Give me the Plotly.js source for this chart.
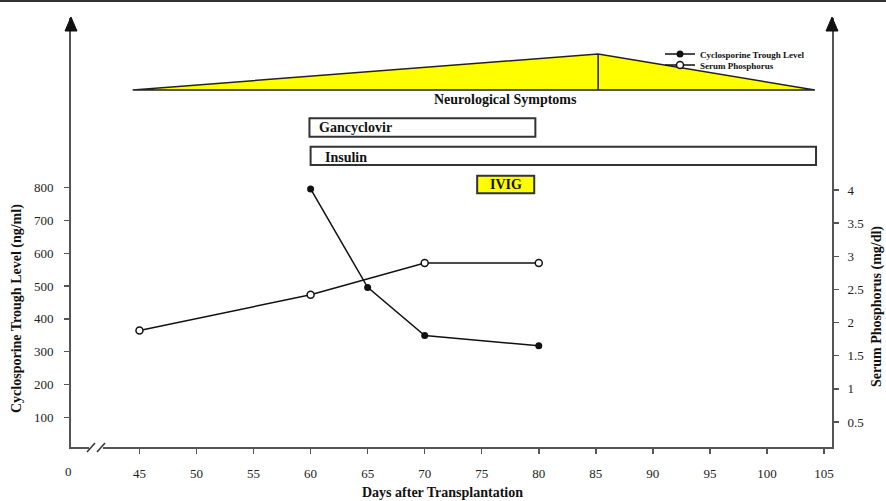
<!DOCTYPE html>
<html>
<head>
<meta charset="utf-8">
<script src="https://cdn.plot.ly/plotly-3.0.1.min.js"></script>
<style>html,body{margin:0;padding:0;background:#fff;}#chart{width:886px;height:501px;}</style>
</head>
<body>
<div id="chart"></div>
<script>
// ---- data ----
const xTicks = [45, 50, 55, 60, 65, 70, 75, 80, 85, 90, 95, 100, 105];
const yLeftTicks = [100, 200, 300, 400, 500, 600, 700, 800];
const yRightTicks = [0.5, 1, 1.5, 2, 2.5, 3, 3.5, 4];
const cycloDays = [60, 65, 70, 80];
const cycloLevel = [796, 496, 349, 318];
const phosDays = [45, 60, 70, 80];
const phosLevel = [1.88, 2.42, 2.9, 2.9];
const symptomDays = [44.4, 85.2, 104.2];   // onset, peak, resolution
const gancDays = [59.9, 79.7];
const insulinDays = [60, 104.3];
const ivigDays = [74.6, 79.6];

// ---- layout helpers (pixel -> paper) ----
const L = 71, R = 832, T = 18, B = 447;
const px = p => (p - L) / (R - L);
const py = p => (B - p) / (B - T);
const FONT = '"Liberation Serif", "Times New Roman", serif';
const axisCol = '#555';

const traces = [
  {
    x: cycloDays, y: cycloLevel, yaxis: 'y', name: 'Cyclosporine Trough Level',
    mode: 'lines+markers', legend: 'legend',
    line: {color: '#111', width: 1.5},
    marker: {symbol: 'circle', size: 7, color: '#111'}
  },
  {
    x: phosDays, y: phosLevel, yaxis: 'y2', name: 'Serum Phosphorus',
    mode: 'lines+markers', legend: 'legend2',
    line: {color: '#111', width: 1.5},
    marker: {symbol: 'circle', size: 7, color: '#fff', line: {color: '#111', width: 1.5}}
  }
];

const yb = py(90), ya = py(54);
const shapes = [
  // top border line
  {type: 'line', xref: 'paper', yref: 'paper', x0: px(0), x1: px(886), y0: py(1), y1: py(1), line: {color: '#333', width: 2}},
  // neurological symptoms triangle
  {type: 'path', xref: 'x', yref: 'paper',
   path: `M${symptomDays[0]},${yb} L${symptomDays[1]},${ya} L${symptomDays[2]},${yb} Z`,
   fillcolor: '#ffff00', line: {color: '#222', width: 1.5}},
  {type: 'line', xref: 'x', yref: 'paper', x0: symptomDays[1], x1: symptomDays[1], y0: yb, y1: ya, line: {color: '#222', width: 1.5}},
  // treatment boxes
  {type: 'rect', xref: 'x', yref: 'paper', x0: gancDays[0], x1: gancDays[1], y0: py(136.7), y1: py(118.3), fillcolor: '#fff', line: {color: '#333', width: 2}},
  {type: 'rect', xref: 'x', yref: 'paper', x0: insulinDays[0], x1: insulinDays[1], y0: py(165), y1: py(146.7), fillcolor: '#fff', line: {color: '#333', width: 2}},
  {type: 'rect', xref: 'x', yref: 'paper', x0: ivigDays[0], x1: ivigDays[1], y0: py(193.3), y1: py(175.7), fillcolor: '#ffff00', line: {color: '#333', width: 2}},
  // axis arrows
  {type: 'path', xref: 'paper', yref: 'paper', path: `M${px(65)},${py(31)} L${px(77)},${py(31)} L${px(71)},${py(17)} Z`, fillcolor: '#111', line: {color: '#111', width: 1}},
  {type: 'path', xref: 'paper', yref: 'paper', path: `M${px(826)},${py(31)} L${px(838)},${py(31)} L${px(832)},${py(17)} Z`, fillcolor: '#111', line: {color: '#111', width: 1}},
  // axis break
  {type: 'rect', xref: 'paper', yref: 'paper', x0: px(89), x1: px(103), y0: py(451), y1: py(443), fillcolor: '#fff', line: {width: 0}},
  {type: 'line', xref: 'paper', yref: 'paper', x0: px(87), x1: px(95), y0: py(452), y1: py(443), line: {color: '#333', width: 1.5}},
  {type: 'line', xref: 'paper', yref: 'paper', x0: px(97), x1: px(105), y0: py(452), y1: py(443), line: {color: '#333', width: 1.5}}
];

const bold = (size) => ({family: FONT, size: size, color: '#111', weight: 'bold'});
const annotations = [
  {text: 'Neurological Symptoms', xref: 'paper', yref: 'paper', x: px(505.5), y: py(99), xanchor: 'center', yanchor: 'middle', showarrow: false, font: bold(14)},
  {text: 'Gancyclovir', xref: 'x', yref: 'paper', x: gancDays[0], xshift: 8, y: py(128), xanchor: 'left', yanchor: 'middle', showarrow: false, font: bold(14)},
  {text: 'Insulin', xref: 'x', yref: 'paper', x: insulinDays[0], xshift: 12, y: py(157), xanchor: 'left', yanchor: 'middle', showarrow: false, font: bold(14)},
  {text: 'IVIG', xref: 'x', yref: 'paper', x: (ivigDays[0] + ivigDays[1]) / 2, y: py(184.5), xanchor: 'center', yanchor: 'middle', showarrow: false, font: bold(14)},
  {text: '0', xref: 'paper', yref: 'paper', x: px(68), y: py(471.5), xanchor: 'center', yanchor: 'middle', showarrow: false, font: {family: FONT, size: 13, color: '#222'}},
  {text: 'Cyclosporine Trough Level (ng/ml)', xref: 'paper', yref: 'paper', x: px(17), y: py(309), xanchor: 'center', yanchor: 'middle', textangle: -90, showarrow: false, font: bold(14)},
  {text: 'Serum Phosphorus (mg/dl)', xref: 'paper', yref: 'paper', x: px(877), y: py(307), xanchor: 'center', yanchor: 'middle', textangle: -90, showarrow: false, font: bold(14)},
  {text: 'Days after Transplantation', xref: 'paper', yref: 'paper', x: px(442.5), y: py(493), xanchor: 'center', yanchor: 'middle', showarrow: false, font: bold(14)}
];

const axisCommon = {
  showline: true, linecolor: axisCol, linewidth: 2,
  ticks: 'outside', ticklen: 5, tickwidth: 1.5, tickcolor: axisCol,
  showgrid: false, zeroline: false, fixedrange: true, automargin: false,
  tickfont: {family: FONT, size: 13, color: '#222'}
};

const legendCommon = {
  xanchor: 'left', yanchor: 'middle', bgcolor: 'rgba(0,0,0,0)', borderwidth: 0,
  font: {family: FONT, size: 9, color: '#111', weight: 'bold'}, itemwidth: 30
};

const layout = {
  width: 886, height: 501,
  margin: {l: L, r: 886 - R, t: T, b: 501 - B, pad: 0},
  paper_bgcolor: '#fff', plot_bgcolor: '#fff',
  showlegend: true,
  legend: Object.assign({x: px(660), y: py(54)}, legendCommon),
  legend2: Object.assign({x: px(660), y: py(65)}, legendCommon),
  xaxis: Object.assign({}, axisCommon, {range: [39, 105.7], tickvals: xTicks, ticklabelstandoff: 8}),
  yaxis: Object.assign({}, axisCommon, {range: [9.5, 1317], tickvals: yLeftTicks, ticklabelstandoff: 8}),
  yaxis2: Object.assign({}, axisCommon, {range: [0.123, 6.595], tickvals: yRightTicks, overlaying: 'y', side: 'right', ticklabelstandoff: 6}),
  shapes: shapes,
  annotations: annotations
};

Plotly.newPlot('chart', traces, layout, {staticPlot: true, displayModeBar: false});
</script>
</body>
</html>
